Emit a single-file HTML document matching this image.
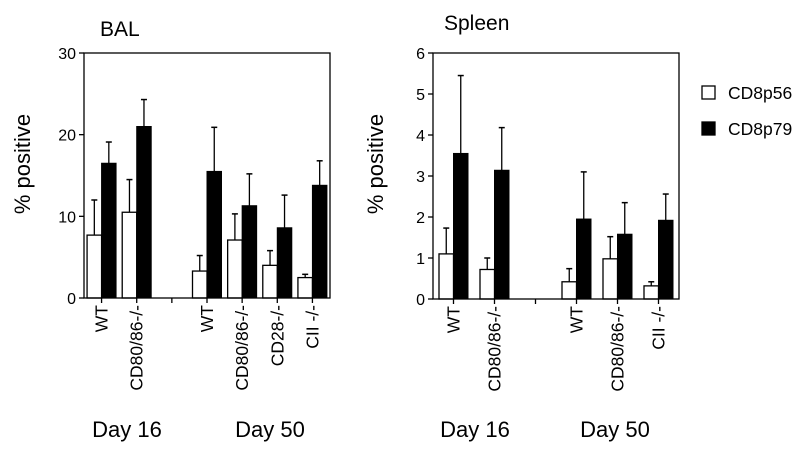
<!DOCTYPE html>
<html><head><meta charset="utf-8"><style>
body{margin:0;background:#fff}
svg{display:block;font-family:"Liberation Sans",Arial,sans-serif}
</style></head><body>
<svg id="c" width="800" height="450" viewBox="0 0 800 450"></svg>
<script>
const balCats=["WT","CD80/86-/-","","WT","CD80/86-/-","CD28-/-","CII -/-"];
const balWhite=[7.7,10.5,null,3.3,7.1,4.0,2.5];
const balWhiteErr=[12,14.5,null,5.2,10.3,5.8,2.9];
const balBlack=[16.5,21,null,15.5,11.3,8.6,13.8];
const balBlackErr=[19.1,24.3,null,20.9,15.2,12.6,16.8];
const balTicks=[0,10,20,30];
const spCats=["WT","CD80/86-/-","","WT","CD80/86-/-","CII -/-"];
const spWhite=[1.1,0.72,null,0.42,0.98,0.32];
const spWhiteErr=[1.73,1.0,null,0.74,1.52,0.42];
const spBlack=[3.55,3.14,null,1.95,1.58,1.92];
const spBlackErr=[5.45,4.18,null,3.1,2.35,2.56];
const spTicks=[0,1,2,3,4,5,6];
const legendLabels=["CD8p56","CD8p79"];

const NS="http://www.w3.org/2000/svg";
const svg=document.getElementById('c');
function mk(tag,attrs,parent,text){const e=document.createElementNS(NS,tag);for(const k in attrs)e.setAttribute(k,attrs[k]);if(text!=null)e.textContent=text;(parent||svg).appendChild(e);return e;}

function panel(o){
  const g=mk('g',{});
  
  
  const yS=v=>o.bottom-(v/o.max)*(o.bottom-o.top);
  const n=o.cats.length, slot=(o.right-o.left)/n;
  const xC=i=>o.left+slot*(i+0.5);
  const bw=14.5;
  for(let i=0;i<n;i++){
    if(o.white[i]==null)continue;
    const c=xC(i);
    const w=mk('rect',{x:c-bw,y:yS(o.white[i]),width:bw,height:o.bottom-yS(o.white[i]),fill:'#fff',stroke:'#000','stroke-width':1.3},g);
    
    
    const b=mk('rect',{x:c,y:yS(o.black[i]),width:bw,height:o.bottom-yS(o.black[i]),fill:'#000',stroke:'#000','stroke-width':1},g);
    
    
    const ew=c-bw/2, eb=c+bw/2;
    mk('line',{x1:ew,x2:ew,y1:yS(o.white[i]),y2:yS(o.wErr[i]),stroke:'#000','stroke-width':1.3},g);
    mk('line',{x1:ew-3,x2:ew+3,y1:yS(o.wErr[i]),y2:yS(o.wErr[i]),stroke:'#000','stroke-width':1.5},g);
    mk('line',{x1:eb,x2:eb,y1:yS(o.black[i]),y2:yS(o.bErr[i]),stroke:'#000','stroke-width':1.3},g);
    mk('line',{x1:eb-3,x2:eb+3,y1:yS(o.bErr[i]),y2:yS(o.bErr[i]),stroke:'#000','stroke-width':1.5},g);
  }
  const f=mk('rect',{x:o.left,y:o.top,width:o.right-o.left,height:o.bottom-o.top,fill:'none',stroke:'#000','stroke-width':1.3},g);
  
  
  o.ticks.forEach(t=>{
    mk('line',{x1:o.left-5,x2:o.left,y1:yS(t),y2:yS(t),stroke:'#000','stroke-width':1.3},g);
    const tl=mk('text',{x:o.left-8,y:yS(t)+6,'text-anchor':'end','font-size':16},g,t);
    
    
  });
  for(let i=0;i<n;i++){
    const c=xC(i);
    mk('line',{x1:c,x2:c,y1:o.bottom,y2:o.bottom+5,stroke:'#000','stroke-width':1.3},g);
    if(o.cats[i]){
      const tx=mk('text',{x:0,y:0,'text-anchor':'end','font-size':17.5,transform:`translate(${c+6},${o.bottom+7}) rotate(-90)`},g,o.cats[i]);
      
      
    }
  }
  const yl=mk('text',{x:0,y:0,'text-anchor':'middle','font-size':22,transform:`translate(${o.ylx},${o.ylY}) rotate(-90)`},g,'% positive');
  
  
  const ti=mk('text',{x:o.tx,y:o.ty,'font-size':21},g,o.title);
  
  
  o.days.forEach(d=>{
    const dt=mk('text',{x:d[0],y:437,'text-anchor':'middle','font-size':22},g,d[1]);
    
    
  });
}
panel({name:'bal',left:84,right:330,top:53,bottom:298,max:30,cats:balCats,white:balWhite,wErr:balWhiteErr,black:balBlack,bErr:balBlackErr,ticks:balTicks,ylx:30,ylY:164,title:'BAL',tx:100,ty:36,days:[[127,'Day 16'],[270,'Day 50']]});
panel({name:'spleen',left:433,right:679,top:53,bottom:299,max:6,cats:spCats,white:spWhite,wErr:spWhiteErr,black:spBlack,bErr:spBlackErr,ticks:spTicks,ylx:383,ylY:164,title:'Spleen',tx:444,ty:30,days:[[475,'Day 16'],[615,'Day 50']]});
legendLabels.forEach((l,i)=>{
  const y=86+i*36;
  const sq=mk('rect',{x:702,y:y,width:13,height:13,fill:i?'#000':'#fff',stroke:'#000','stroke-width':1.3});
  
  
  const t=mk('text',{x:728,y:y+13,'font-size':17.5},null,l);
  
  
});
</script>
</body></html>
